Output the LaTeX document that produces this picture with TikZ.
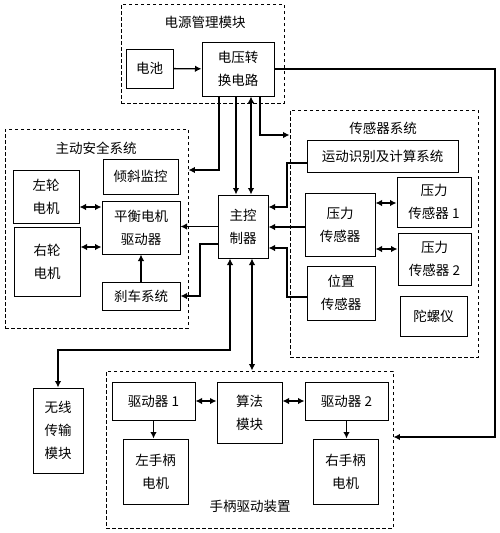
\documentclass[tikz,border=0pt]{standalone}
\usepackage{fontspec}
\setmainfont{Noto Sans CJK SC}
\usetikzlibrary{arrows.meta}

\begin{document}
\begin{tikzpicture}[x=1pt, y=-1pt, >={Latex[length=6.5pt,width=6.5pt]}]
        \tikzstyle{b} = [rectangle, draw=black, line width=1pt, inner sep=0pt,
                         align=center, font=\fontsize{13.5}{23}\selectfont]
        \tikzstyle{g} = [rectangle, draw=black, line width=0.9pt,
                         dash pattern=on 3.5pt off 2.5pt]
        \tikzstyle{t} = [font=\fontsize{13.5}{23}\selectfont]
        \tikzstyle{w} = [line width=1.3pt]

        \useasboundingbox (0,0) rectangle (500,533);

        % dashed groups
        \node(pwr)   [g, minimum width=163pt, minimum height=99pt]  at (202.5,53.5) {};
        \node(safe)  [g, minimum width=183pt, minimum height=199pt] at (96.5,228.5) {};
        \node(sens)  [g, minimum width=188pt, minimum height=247pt] at (384,233.5) {};
        \node(hand)  [g, minimum width=287pt, minimum height=157pt] at (249.5,449.5) {};
        \node(pwrt)  [t] at (205,22)  {电源管理模块};
        \node(safet) [t] at (96,148)  {主动安全系统};
        \node(senst) [t] at (383,128) {传感器系统};
        \node(handt) [t] at (250,506) {手柄驱动装置};

        % boxes
        \node(bat)    [b, minimum width=47pt, minimum height=39pt]  at (149.5,68.5) {电池};
        \node(conv)   [b, minimum width=72pt, minimum height=54pt]  at (238,69)     {电压转\\换电路};
        \node(main)   [b, minimum width=50pt, minimum height=63pt]  at (243,226.5)  {主控\\制器};
        \node(tilt)   [b, minimum width=75pt, minimum height=35pt]  at (140.5,176.5) {倾斜监控};
        \node(lw)     [b, minimum width=66pt, minimum height=53pt]  at (46,196.5)   {左轮\\电机};
        \node(rw)     [b, minimum width=66pt, minimum height=69pt]  at (47,261.5)   {右轮\\电机};
        \node(bal)    [b, minimum width=78pt, minimum height=53pt]  at (141,227.5)  {平衡电机\\驱动器};
        \node(brake)  [b, minimum width=78pt, minimum height=28pt]  at (141,296)    {刹车系统};
        \node(motion) [b, minimum width=151pt, minimum height=32pt] at (382.5,156)  {运动识别及计算系统};
        \node(press)  [b, minimum width=70pt, minimum height=63pt]  at (340,224.5)  {压力\\传感器};
        \node(p1)     [b, minimum width=74pt, minimum height=50pt]  at (434,202)    {压力\\传感器 1};
        \node(p2)     [b, minimum width=73pt, minimum height=52pt]  at (434.5,259)  {压力\\传感器 2};
        \node(pos)    [b, minimum width=68pt, minimum height=54pt]  at (341,293)    {位置\\传感器};
        \node(gyro)   [b, minimum width=67pt, minimum height=40pt]  at (433.5,316)  {陀螺仪};
        \node(wifi)   [b, minimum width=50pt, minimum height=85pt]  at (58,430.5)   {无线\\传输\\模块};
        \node(d1)     [b, minimum width=83pt, minimum height=38pt]  at (153.5,401)  {驱动器 1};
        \node(alg)    [b, minimum width=65pt, minimum height=61pt]  at (249.5,412.5) {算法\\模块};
        \node(d2)     [b, minimum width=83pt, minimum height=38pt]  at (346.5,401)  {驱动器 2};
        \node(lm)     [b, minimum width=65pt, minimum height=65pt]  at (155.5,471.5) {左手柄\\电机};
        \node(rm)     [b, minimum width=65pt, minimum height=65pt]  at (345.5,471.5) {右手柄\\电机};

        % power lines
        \draw[w, ->] (bat) -- (conv);
        \draw[w, ->] (conv.east) -| (495,437) -- (hand.east |- 0,437);
        \draw[w, ->] (219,0 |- conv.south) |- (safe.east |- 0,170);
        \draw[w, ->] (236,0 |- conv.south) -- (236,0 |- main.north);
        \draw[w, <->] (251,0 |- conv.south) -- (251,0 |- main.north);
        \draw[w, ->] (260,0 |- conv.south) |- (sens.west |- 0,135);

        % main controller
        \draw[w, ->] (main.west) -- (main.west -| bal.east);
        \draw[w, ->] (main.west |- 0,244) -- (200,244) |- (brake.east);
        \draw[w, <->] (230,0 |- main.south) -- (230,350) -| (wifi.north);
        \draw[w, <->] (252,0 |- main.south) -- (252,0 |- hand.north);
        \draw[w, ->] (motion.west |- 0,163) -| (287,207) -- (main.east |- 0,207);
        \draw[w, ->] (press.west |- 0,227) -- (main.east |- 0,227);
        \draw[w, ->] (pos.west |- 0,297) -| (287,248) -- (main.east |- 0,248);

        % inside the groups
        \draw[w, <->] (press.east |- 0,203) -- (p1.west |- 0,203);
        \draw[w, <->] (press.east |- 0,249) -- (p2.west |- 0,249);
        \draw[w, <->] (lw.east |- 0,207) -- (bal.west |- 0,207);
        \draw[w, <->] (rw.east |- 0,247) -- (bal.west |- 0,247);
        \draw[w, ->] (brake.north) -- (bal.south);
        \draw[w, <->] (d1.east) -- (d1.east -| alg.west);
        \draw[w, <->] (alg.east |- d2.west) -- (d2.west);
        \draw[w, ->] (d1.south) -- (d1.south |- lm.north);
        \draw[w, ->] (d2.south) -- (d2.south |- rm.north);
      \end{tikzpicture}
\end{document}
